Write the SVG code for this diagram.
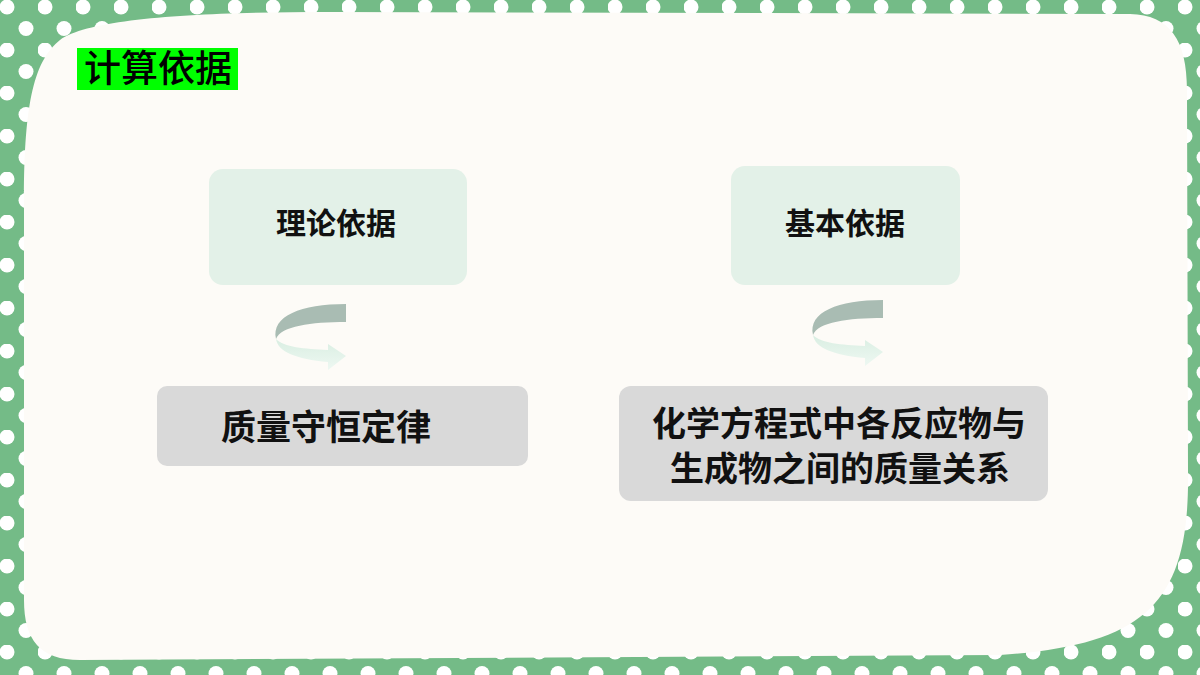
<svg xmlns="http://www.w3.org/2000/svg" width="1200" height="675" viewBox="0 0 1200 675">
<defs>
<pattern id="dots" width="38" height="43" patternUnits="userSpaceOnUse">
<circle cx="7" cy="7" r="7.5" fill="#fff"/><circle cx="26" cy="28.5" r="7.5" fill="#fff"/>
</pattern>
<linearGradient id="lg" x1="0" y1="0" x2="0" y2="1"><stop offset="0" stop-color="#d9eee2"/><stop offset="1" stop-color="#eef8f2"/></linearGradient>
<g id="arr">
<path d="M0 35 C5 22 35 18 70 18 L70 0 C25 0 -5 12 0 35 Z" fill="#a9bcb3"/>
<path d="M0 35 C2 48 20 55 52 58 L52 66 L70 52 L52 40 L52 46 C28 45 8 43 0 35 Z" fill="url(#lg)"/>
</g>
<style>
.t{font-family:"Noto Sans CJK SC","Liberation Sans",sans-serif;font-weight:bold;fill:#111;text-anchor:middle}
</style>
</defs>
<rect width="1200" height="675" fill="#74bb87"/>
<rect width="1200" height="675" fill="url(#dots)"/>
<path d="M60 40 C90 18 200 12 330 12 L1130 14 C1170 15 1187 40 1187 90 L1188 470 C1190 600 1150 645 1000 655 L80 660 C40 660 24 640 24 600 L24 200 C24 100 35 60 60 40 Z" fill="#fdfbf7"/>
<g id="title"><rect x="77" y="48" width="161" height="42" fill="#00ff00"/>
<text x="158" y="82" style="font-family:'Noto Sans CJK SC',sans-serif;font-size:37px;font-weight:500;fill:#000;text-anchor:middle">计算依据</text></g>
<g id="n1"><rect x="209" y="169" width="258" height="116" rx="14" fill="#e3f1e8"/><text class="t" x="336" y="234" font-size="30">理论依据</text></g>
<g id="n2"><rect x="731" y="166" width="229" height="119" rx="14" fill="#e3f1e8"/><text class="t" x="845" y="234" font-size="30">基本依据</text></g>
<g id="n3"><rect x="157" y="386" width="371" height="80" rx="10" fill="#d9d9d9"/><text class="t" x="326" y="440" font-size="35">质量守恒定律</text></g>
<g id="n4"><rect x="619" y="386" width="429" height="115" rx="12" fill="#d9d9d9"/><text class="t" x="839" y="436" font-size="34">化学方程式中各反应物与</text><text class="t" x="840" y="481" font-size="34">生成物之间的质量关系</text></g>
<g id="connectors">
<use href="#arr" x="276" y="304"/>
<use href="#arr" x="813" y="300"/>
</g>
</svg>
